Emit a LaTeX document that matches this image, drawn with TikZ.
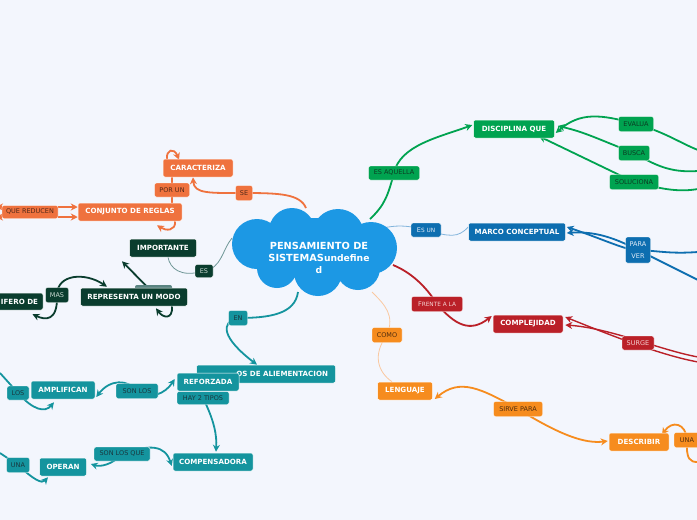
\documentclass[tikz,border=0pt]{standalone}
\usepackage{fontspec}
\setmainfont{DejaVu Sans}
\usetikzlibrary{arrows.meta}
\pgfdeclarelayer{back}
\pgfdeclarelayer{edges}
\pgfsetlayers{back,edges,main}
\definecolor{bgc}{RGB}{243,246,253}
\definecolor{sal}{RGB}{239,114,62}
\definecolor{saltx}{RGB}{80,40,25}
\definecolor{dkg}{RGB}{10,61,46}
\definecolor{dkgtx}{RGB}{200,216,208}
\definecolor{dkthin}{RGB}{110,150,150}
\definecolor{tealc}{RGB}{20,148,158}
\definecolor{tealtx}{RGB}{25,55,62}
\definecolor{grn}{RGB}{0,163,80}
\definecolor{grntx}{RGB}{12,60,35}
\definecolor{blu}{RGB}{13,110,176}
\definecolor{blutx}{RGB}{225,236,248}
\definecolor{bluthin}{RGB}{130,180,220}
\definecolor{redc}{RGB}{186,32,40}
\definecolor{redtx}{RGB}{245,210,210}
\definecolor{org}{RGB}{246,140,30}
\definecolor{orgtx}{RGB}{80,45,15}
\definecolor{peach}{RGB}{250,200,160}
\definecolor{cloudc}{RGB}{28,152,228}
\begin{document}
\begin{tikzpicture}[x=1pt,y=-1pt,
 topic/.style={rounded corners=2pt, draw=white, line width=0.5pt, fill=#1, text=white,
   font=\fontsize{7.1}{8}\selectfont\bfseries, inner sep=0pt, align=center, minimum height=18pt},
 lab/.style={rounded corners=2pt, draw=white, line width=0.4pt, fill=#1,
   font=\fontsize{6.5}{7.5}\selectfont, inner sep=0pt, align=center},
 con/.style={line width=1.8pt, draw=#1},
 arr/.style={-{Stealth[length=7pt,width=7pt]}},
 thinc/.style={line width=0.8pt, draw=#1}
]
\useasboundingbox (0,0) rectangle (697,520);
\begin{pgfonlayer}{back}
\fill[bgc] (0,0) rectangle (697,520);
\end{pgfonlayer}

% cloud
\fill[cloudc] (292,231) circle (23) (338,235) circle (26) (257,244) circle (25)
  (371,248) circle (26) (277,268) circle (20) (318,272) circle (24)
  (358,268) circle (22) (315,250) circle (32);
\node[text=white, font=\fontsize{9.8}{12}\selectfont\bfseries, align=center, inner sep=0pt] (cloud) at (319,258)
  {PENSAMIENTO DE\\SISTEMAS{\fontsize{9.2}{12}\selectfont undefine}\\{\fontsize{9.2}{12}\selectfont d}};

% salmon
\node[topic=sal, minimum width=70pt] (car) at (198,168) {CARACTERIZA};
\node[lab=sal, text=saltx, minimum width=35pt, minimum height=14pt] (porun) at (172,190) {POR UN};
\node[lab=sal, text=saltx, minimum width=17pt, minimum height=15pt] (se) at (244,193) {SE};
\node[topic=sal, minimum width=104pt] (conj) at (130,212) {CONJUNTO DE REGLAS};
\node[lab=sal, text=saltx, minimum width=56pt, minimum height=13pt] (qr) at (30,212) {QUE REDUCEN};

% dark green
\fill[dkthin!80!dkg, rounded corners=2pt] (135,285) rectangle (172,293);
\node[topic=dkg, minimum width=67pt] (imp) at (163,248) {IMPORTANTE};
\node[lab=dkg, text=dkgtx, minimum width=18pt, minimum height=13pt] (es) at (204,271) {ES};
\node[topic=dkg, minimum width=107pt] (rep) at (134,297) {REPRESENTA UN MODO};
\node[lab=dkg, text=dkgtx, minimum width=23pt, minimum height=15pt] (mas) at (57,295) {MAS};
\node[topic=dkg, minimum width=47pt, minimum height=17pt] (dif) at (19.5,301.5) {IFERO DE};

% teal
\node[topic=tealc, minimum width=139pt, text width=124pt, align=right] (cic) at (266,374) {OS DE ALIEMENTACION};
\node[lab=tealc, text=tealtx, minimum width=52pt, minimum height=13pt] (hay) at (203,398) {HAY 2 TIPOS};
\node[topic=tealc, minimum width=62pt] (ref) at (208,382) {REFORZADA};
\node[topic=tealc, minimum width=64pt] (amp) at (63,390) {AMPLIFICAN};
\node[lab=tealc, text=tealtx, minimum width=42pt, minimum height=15pt] (sonlos) at (137,391) {SON LOS};
\node[lab=tealc, text=tealtx, minimum width=22pt, minimum height=14pt] (los) at (18,393) {LOS};
\node[topic=tealc, minimum width=80pt] (comp) at (213,462) {COMPENSADORA};
\node[lab=tealc, text=tealtx, minimum width=56pt, minimum height=14pt] (slq) at (122,454) {SON LOS QUE};
\node[topic=tealc, minimum width=47pt] (ope) at (63,467) {OPERAN};
\node[lab=tealc, text=tealtx, minimum width=23pt, minimum height=15pt] (una1) at (18,465) {UNA};
\node[lab=tealc, text=tealtx, minimum width=19pt, minimum height=15pt] (en) at (238,318) {EN};

% green
\node[topic=grn, minimum width=81pt] (dis) at (514,129) {DISCIPLINA QUE};
\node[lab=grn, text=grntx, minimum width=51pt, minimum height=14pt] (esaq) at (394,173) {ES AQUELLA};
\node[lab=grn, text=grntx, minimum width=35pt, minimum height=15pt] (eva) at (636,124) {EVALUA};
\node[lab=grn, text=grntx, minimum width=31pt, minimum height=15pt] (bus) at (634,153) {BUSCA};
\node[lab=grn, text=grntx, minimum width=49pt, minimum height=15pt] (sol) at (634,182) {SOLUCIONA};

% blue
\node[topic=blu, minimum width=97pt] (mar) at (517,232) {MARCO CONCEPTUAL};
\node[lab=blu, text=blutx, minimum width=30pt, minimum height=14pt] (esun) at (426,230) {E{\fontsize{5.8}{6}\selectfont S UN}};
\node[lab=blu, text=blutx, minimum width=25pt, minimum height=26pt, font=\fontsize{6.5}{12}\selectfont] (pv) at (638,250) {PARA\\VER};

% red
\node[topic=redc, minimum width=70pt] (cmp) at (528,324) {COMPLEJIDAD};
\node[lab=redc, text=redtx, minimum width=51pt, minimum height=15pt] (fr) at (437,304) {F{\fontsize{5.8}{6}\selectfont RENTE A LA}};
\node[lab=redc, text=redtx, minimum width=32pt, minimum height=14pt] (sur) at (638,343) {SURGE};

% orange
\node[topic=org, minimum width=55pt] (len) at (405,391) {LENGUAJE};
\node[lab=org, text=orgtx, minimum width=30pt, minimum height=15pt] (como) at (387,335) {COMO};
\node[lab=org, text=orgtx, minimum width=49pt, minimum height=15pt] (sirve) at (518,409) {SIRVE PARA};
\node[topic=org, minimum width=60pt] (des) at (639,442) {DESCRIBIR};
\node[lab=org, text=orgtx, minimum width=26pt, minimum height=15pt] (una2) at (687,440) {UNA};

% free ends
\coordinate (cSE) at (306,208);
\coordinate (cES) at (232,238);
\coordinate (cEN) at (298,292);
\coordinate (cGR) at (370,219);
\coordinate (cBL) at (382,228);
\coordinate (cRD) at (393,265);
\coordinate (cOR) at (372,292);
\coordinate (L1) at (-4,207);
\coordinate (L2) at (-4,217);
\coordinate (L3) at (0,373);
\coordinate (L4) at (0,453);
\coordinate (R1) at (698,150);
\coordinate (R2) at (698,171);
\coordinate (R3) at (698,189);
\coordinate (R4) at (698,252);
\coordinate (R5) at (698,280);
\coordinate (R6) at (698,357);
\coordinate (R7) at (698,362);
\coordinate (R8) at (698,462);

\begin{pgfonlayer}{edges}
% salmon
\draw[con=sal] (cSE) .. controls (300,194) and (280,193) .. (se.center);
\draw[con=sal, arr] (se.center) .. controls (210,193) and (194,194) .. ([xshift=-5pt]car.south);
\draw[con=sal] (porun.center |- car.center) -- (porun.center |- conj.center);
\draw[con=sal, arr] ([xshift=-31pt]car.north) .. controls (166,150) and (174,147) .. ([xshift=-19pt,yshift=-1pt]car.north);
\draw[con=sal, arr] ([xshift=45pt]conj.south) .. controls (176,231) and (166,231) .. ([xshift=27pt,yshift=-4pt]conj.south);
\draw[con=sal, {Stealth[length=7pt,width=7pt]}-{Stealth[length=7pt,width=7pt]}] (L1) -- (conj.west |- L1);
\draw[con=sal, {Stealth[length=7pt,width=7pt]}-{Stealth[length=7pt,width=7pt]}] (L2) -- (conj.west |- L2);
% dark green
\draw[thinc=dkthin] (cES) .. controls (222,250) and (222,268) .. (es.center);
\draw[thinc=dkthin] (es.center) .. controls (180,278) and (170,268) .. ([xshift=5pt]imp.south);
\draw[con=dkg, arr] ([xshift=14pt]rep.north) -- ([xshift=-41pt,yshift=-4pt]imp.south);
\draw[con=dkg, arr] (mas.center) .. controls (57,274) and (85,272) .. ([xshift=-27pt,yshift=1pt]rep.north);
\draw[con=dkg, arr] (mas.center) .. controls (58,322) and (45,320) .. ([xshift=13pt,yshift=-4pt]dif.south);
\draw[con=dkg, arr] ([xshift=38pt]rep.south) .. controls (173,320) and (163,318) .. ([xshift=22pt,yshift=-2pt]rep.south);
% teal
\draw[con=tealc] (cEN) .. controls (295,314) and (270,318) .. (en.center);
\draw[con=tealc, arr] (en.center) .. controls (220,322) and (222,338) .. ([xshift=-9pt]cic.north);
\draw[con=tealc, arr] (hay.center) .. controls (214,420) and (217,435) .. ([xshift=3pt,yshift=1pt]comp.north);
\draw[con=tealc, arr] (sonlos.center) .. controls (150,400) and (165,394) .. ([xshift=-2pt,yshift=3pt]ref.west);
\draw[con=tealc, arr] (sonlos.center) .. controls (128,379) and (110,379) .. ([xshift=1pt,yshift=-7pt]amp.east);
\draw[con=tealc] (L3) -- (los.center);
\draw[con=tealc, arr] (los.center) .. controls (33,410) and (45,413) .. ([xshift=-9pt,yshift=-3pt]amp.south);
\draw[con=tealc, arr] (slq.center) .. controls (150,444) and (165,445) .. ([xshift=-1pt,yshift=-4pt]comp.west);
\draw[con=tealc, arr] (slq.center) .. controls (112,465) and (100,467) .. ([xshift=4pt,yshift=3pt]ope.east);
\draw[con=tealc] (L4) -- (una1.center);
\draw[con=tealc, arr] (una1.center) .. controls (34,480) and (42,484) .. ([xshift=-15pt,yshift=-1pt]ope.south);
% green
\draw[con=grn] (cGR) .. controls (385,205) and (388,195) .. (esaq.center);
\draw[con=grn, arr] (esaq.center) .. controls (400,145) and (440,137) .. ([xshift=-1pt,yshift=4pt]dis.west);
\draw[con=grn] (R1) .. controls (680,143) and (665,132) .. (eva.center);
\draw[con=grn, arr] (eva.center) .. controls (600,114) and (580,112) .. ([xshift=1pt,yshift=-4pt]dis.east);
\draw[con=grn] (R2) .. controls (670,173) and (655,165) .. (bus.center);
\draw[con=grn, arr] (bus.center) .. controls (600,140) and (585,132) .. ([xshift=3pt,yshift=3pt]dis.east);
\draw[con=grn] (R3) .. controls (680,192) and (665,190) .. (sol.center);
\draw[con=grn, arr] (sol.center) -- ([xshift=25pt,yshift=2pt]dis.south);
% blue
\draw[thinc=bluthin] (cBL) .. controls (395,226) and (402,224) .. (esun.center);
\draw[thinc=bluthin] (esun.center) .. controls (450,237) and (458,238) .. ([yshift=5pt]mar.west);
\draw[con=blu, arr] (R4) .. controls (670,254) and (660,251) .. (pv.center) .. controls (615,238) and (595,231) .. ([xshift=1pt,yshift=-1pt]mar.east);
\draw[con=blu, arr] (R5) -- (pv.center) .. controls (630,252) and (600,238) .. ([xshift=1pt,yshift=5pt]mar.east);
% red
\draw[con=redc] (cRD) .. controls (410,272) and (425,285) .. (fr.center);
\draw[con=redc, arr] (fr.center) .. controls (455,325) and (470,333) .. ([xshift=-1pt,yshift=8pt]cmp.west);
\draw[line width=1.4pt, draw=redc, arr] (R6) .. controls (660,350) and (610,328) .. ([xshift=2pt,yshift=-1pt]cmp.east);
\draw[line width=1.4pt, draw=redc, arr] (R7) .. controls (660,355) and (610,335) .. ([xshift=2pt,yshift=7pt]cmp.east);
% orange
\draw[thinc=peach] (cOR) .. controls (385,305) and (395,315) .. (como.center);
\draw[thinc=peach] (como.center) .. controls (372,355) and (378,372) .. ([xshift=-13pt]len.north);
\draw[con=org, arr] (sirve.center) .. controls (480,388) and (460,378) .. ([xshift=2pt,yshift=-8pt]len.east);
\draw[con=org, arr] (sirve.center) .. controls (560,435) and (585,444) .. ([xshift=-1pt,yshift=1pt]des.west);
\draw[con=org, arr] (una2.center) .. controls (686,423) and (672,420) .. ([xshift=23pt,yshift=-2pt]des.north);
\draw[con=org] (una2.center) .. controls (686,460) and (690,462) .. (R8);
\end{pgfonlayer}
\end{tikzpicture}
\end{document}
